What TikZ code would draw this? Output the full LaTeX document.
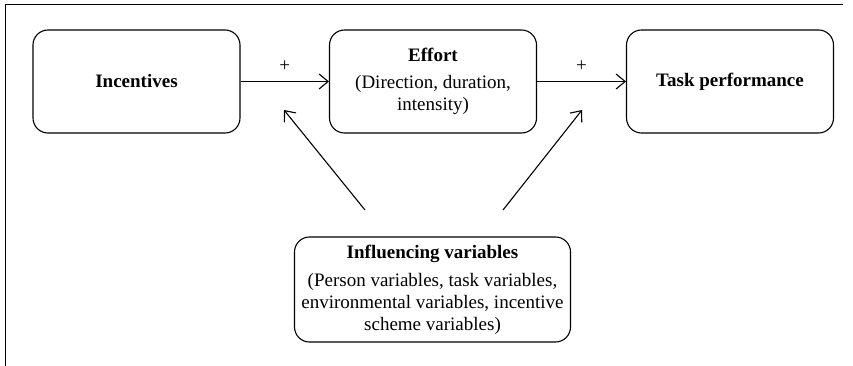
\documentclass[tikz,border=0pt]{standalone}
\usepackage{fontspec}
\setmainfont{Liberation Serif}
\usetikzlibrary{arrows.meta}

\tikzset{
    stage/.style={draw, line width=1.1pt, rounded corners=15pt, minimum width=207pt, minimum height=103pt, align=center, inner sep=4pt},
    infl/.style={draw, line width=1.1pt, rounded corners=15pt, minimum width=276pt, minimum height=105pt, align=center, inner sep=4pt},
    link/.style={-{Straight Barb[length=9pt,width=15pt,line width=1.1pt]}, line width=1.1pt}
}

\begin{document}
\begin{tikzpicture}[x=1pt, y=-1pt, font=\fontsize{19}{22}\selectfont]
    \useasboundingbox (0,0) rectangle (853,366);

    % frame (only top and left edges show)
    \coordinate (FrameTL) at (5.5,4.5);
    \coordinate (FrameBL) at (5.5,366);
    \coordinate (FrameTR) at (843,4.5);
    \draw[line width=1.1pt] (FrameBL) -- (FrameTL) -- (FrameTR);

    \node [stage] (Inc) at (136.5,81.5) {\textbf{Incentives}};
    \node [stage] (Eff) at (433,81.5) {\textbf{Effort}\\[5pt](Direction, duration,\\intensity)};
    \node [stage] (Task) at (730,81.5) {\textbf{Task performance}};

    \node [infl] (Var) at (432.5,289.5) {\textbf{Influencing variables}\\[6pt](Person variables, task variables,\\environmental variables, incentive\\scheme variables)};

        \coordinate (VarL) at (365,210);
        \coordinate (VarR) at (503,210);
        \coordinate (IncEff) at (284,110);
        \coordinate (EffTask) at (582,110);

    \draw[link] (Inc) -- (Eff) node [midway, above=6pt] {+};
    \draw[link] (Eff) -- (Task) node [midway, above=6pt] {+};

    \draw[link] (VarL) -- (IncEff);
    \draw[link] (VarR) -- (EffTask);

\end{tikzpicture}
\end{document}
